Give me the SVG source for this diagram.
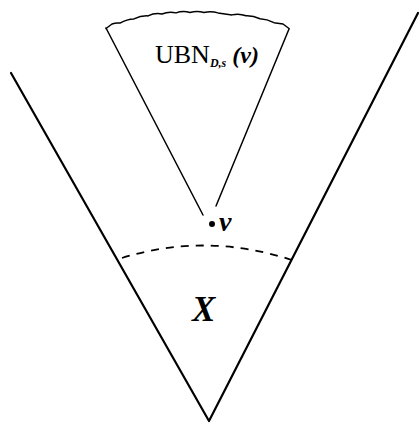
<svg xmlns="http://www.w3.org/2000/svg" width="420" height="426" viewBox="0 0 420 426">
<style>
.ln{fill:none;stroke:#000;stroke-width:2.2;stroke-linecap:round;stroke-linejoin:round}
.thin{fill:none;stroke:#000;stroke-width:1.5;stroke-linecap:round;stroke-linejoin:round}
.dash{fill:none;stroke:#000;stroke-width:1.8;stroke-dasharray:8,7}
.t{font-family:"Liberation Serif","Times New Roman",serif;fill:#000}
</style>
<rect width="420" height="426" fill="#fff"/>
<g id="cone-X">
<path class="ln" d="M11,73 L209,421 L418,13"/>
</g>
<g id="ubn-cone">
<path class="thin" d="M106,28 L203,215"/>
<path class="thin" d="M289,29 L216,206"/>
<path class="thin" d="M106,28.5 L112,24 Q116,22.5 120,23.1 Q127,19 134,18.9 Q141,15.5 148,15.9 Q155,12.5 162,14 Q169,11 176,12.9 Q183,10.5 190,12.5 Q197,10.5 204,12.5 Q211,11 218,12.9 Q225,14 232,14.9 Q239,13 246,15.8 Q253,15.5 260,18.7 Q267,19 274,22.7 L283,24 L289,28.5"/>
<text class="t" x="155" y="63" font-size="26">UBN<tspan font-size="12" font-style="italic" font-weight="bold" dy="4">D,s</tspan><tspan font-size="24" font-style="italic" font-weight="bold" dy="-4" dx="6">(v)</tspan></text>
</g>
<g id="v-point">
<circle cx="212" cy="224" r="3" fill="#000"/>
<text class="t" x="219" y="231" font-size="28" font-style="italic" font-weight="bold">v</text>
</g>
<g id="boundary">
<path class="dash" d="M122,258 Q205,232 292,260"/>
</g>
<g id="X-label">
<text class="t" x="192" y="321" font-size="35" font-style="italic" font-weight="bold">X</text>
</g>
</svg>
